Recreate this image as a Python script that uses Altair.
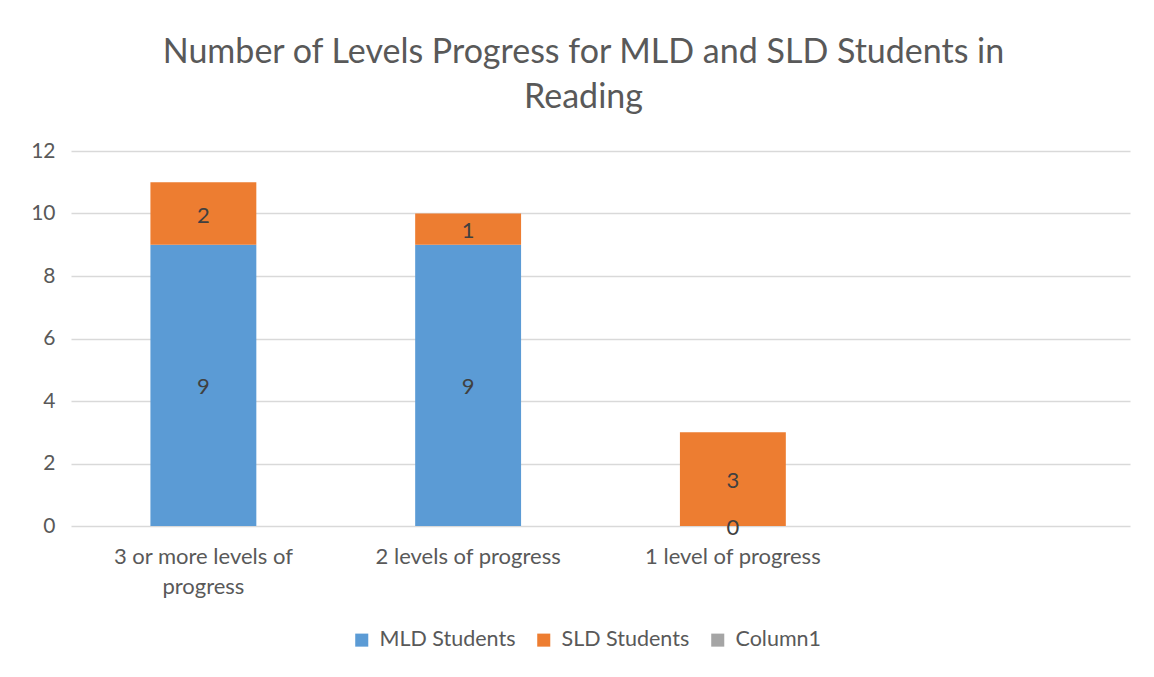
import altair as alt
import pandas as pd

categories = ["3 or more levels of progress", "2 levels of progress", "1 level of progress", " "]
series = ["MLD Students", "SLD Students", "Column1"]
mld_values = [9, 9, 0]
sld_values = [2, 1, 3]
colors = ["#5B9BD5", "#ED7D31", "#A5A5A5"]
y_ticks = [0, 2, 4, 6, 8, 10, 12]

rows = []
for i, c in enumerate(categories[:3]):
    rows.append({"category": c, "series": "MLD Students", "value": mld_values[i], "order": 0})
    rows.append({"category": c, "series": "SLD Students", "value": sld_values[i], "order": 1})
df = pd.DataFrame(rows)

FONT = "Lato"
GRAY = "#595959"

x_enc = alt.X(
    "category:N",
    scale=alt.Scale(domain=categories, paddingInner=0.6, paddingOuter=0.3),
    axis=alt.Axis(
        title=None, ticks=False, domain=False, labelAngle=0,
        labelFontSize=22, labelColor=GRAY, labelFont=FONT, labelPadding=20,
        labelLineHeight=30, labelLimit=400,
        labelExpr="datum.value == '3 or more levels of progress' ? ['3 or more levels of', 'progress'] : datum.value",
    ),
)

bars = alt.Chart(df).mark_bar().encode(
    x=x_enc,
    y=alt.Y(
        "value:Q",
        stack="zero",
        scale=alt.Scale(domain=[0, 12]),
        axis=alt.Axis(
            title=None, values=y_ticks, ticks=False, domain=False,
            labelFontSize=21, labelColor=GRAY, labelFont=FONT, labelPadding=16,
            gridColor="#D9D9D9", gridWidth=1.3,
        ),
    ),
    color=alt.Color(
        "series:N",
        scale=alt.Scale(domain=series, range=colors),
        legend=alt.Legend(
            title=None, orient="none", direction="horizontal",
            legendX=280, legendY=478,
            symbolType="square", symbolSize=170, symbolStrokeWidth=0,
            labelFontSize=21.5, labelColor=GRAY, labelFont=FONT,
            columnPadding=17, labelOffset=7,
        ),
    ),
    order=alt.Order("order:Q"),
)

labels = alt.Chart(df).transform_stack(
    stack="value", groupby=["category"], as_=["y0", "y1"], sort=[alt.SortField("order")]
).transform_calculate(
    mid="(datum.y0 + datum.y1) / 2"
).mark_text(fontSize=22, color="#404040", font=FONT, dy=2).encode(
    x=x_enc,
    y=alt.Y("mid:Q"),
    text=alt.Text("value:Q"),
)

chart = alt.layer(bars, labels).properties(
    width=1059,
    height=375,
    title=alt.TitleParams(
        ["Number of Levels Progress for MLD and SLD Students in", "Reading"],
        fontSize=34, font=FONT, fontWeight="normal", color=GRAY,
        anchor="middle", offset=25, lineHeight=45, dx=-17,
    ),
    autosize=alt.AutoSizeParams(type="none"),
    padding={"left": 63, "top": 143, "right": 16, "bottom": 135},
).configure_view(stroke=None)

chart.save("out.html", embed_options={"renderer": "svg", "actions": False})
